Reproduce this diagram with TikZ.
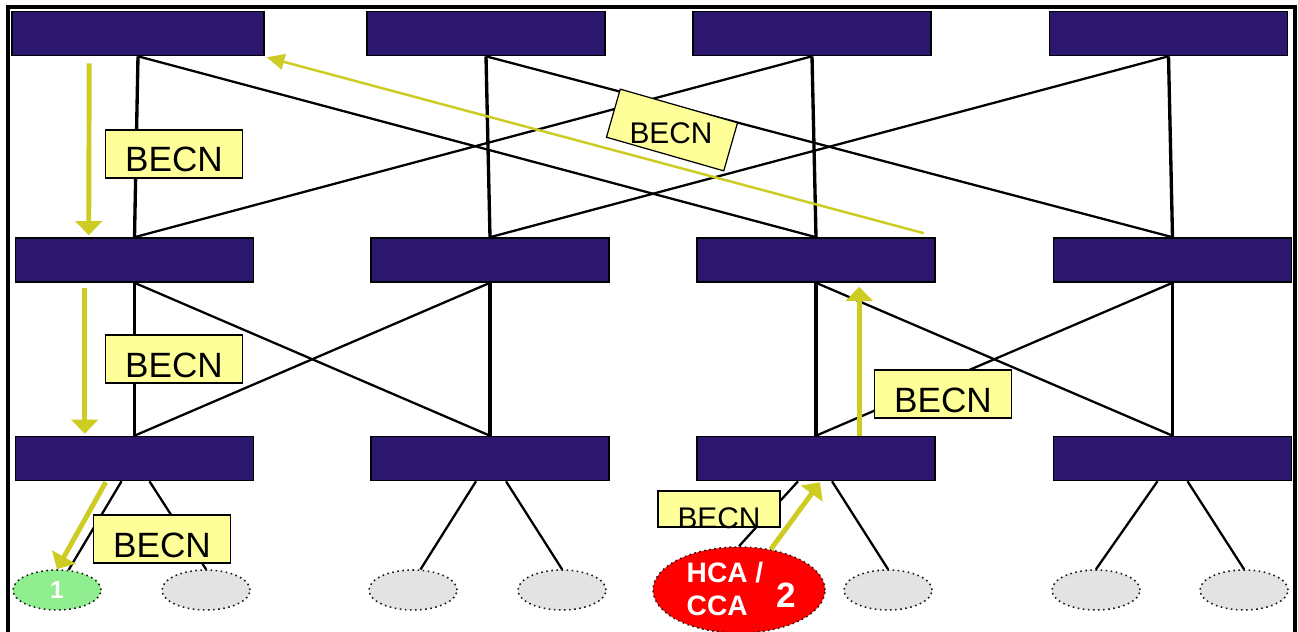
\documentclass[tikz,border=0pt]{standalone}
\usepackage{fontspec}
\setmainfont{Liberation Sans}
\usetikzlibrary{calc,arrows.meta,shapes.geometric}

\definecolor{switchblue}{RGB}{43,24,110}
\definecolor{becnfill}{RGB}{255,255,153}
\definecolor{becnline}{RGB}{204,204,34}
\definecolor{hostgray}{RGB}{227,227,227}
\definecolor{hostgreen}{RGB}{144,238,144}

\begin{document}
\begin{tikzpicture}[x=0.2mm,y=-0.2mm,
    switch/.style={rectangle,draw=black,line width=0.9pt,fill=switchblue,
      minimum width=47.6mm,minimum height=8.8mm,inner sep=0},
    host/.style={ellipse,draw=black!90,dotted,line width=0.9pt,fill=hostgray,
      minimum width=17.6mm,minimum height=8mm,inner sep=0},
    becn/.style={rectangle,draw=black,line width=0.7pt,fill=becnfill,
      minimum width=27.4mm,minimum height=9.6mm,inner sep=0,
      text height=7.2mm,text depth=0pt,
      font=\fontsize{20}{24}\selectfont},
    becntext/.style={inner sep=0,font=\fontsize{17}{20}\selectfont},
    hosttext/.style={text=white,inner sep=0,font=\bfseries\fontsize{16}{19}\selectfont},
    link/.style={line width=1.3pt},
    uplink/.style={line width=1.9pt},
    notify/.style={draw=becnline,line width=2.8pt,-{Triangle[width=15pt,length=8pt]}},
    thin notify/.style={draw=becnline,line width=1.4pt,-{Triangle[width=9pt,length=10pt]}}]

    \fill[white] (0,0) rectangle (1298,632);
    \useasboundingbox (0,0) rectangle (1298,632);
    \draw[line width=1.8pt] (8,640) |- (1295,7) -- (1295,640);

    % switches, three tiers
    \node[switch,minimum width=50.4mm] (t1) at (138,33.5) {};
    \node[switch] (t2) at (486,33.5) {};
    \node[switch] (t3) at (812,33.5) {};
    \node[switch] (t4) at (1168.5,33.5) {};
    \foreach \i/\x in {1/134.5,2/490,3/816,4/1172.5} {
      \node[switch] (m\i) at (\x,260) {};
      \node[switch] (b\i) at (\x,458.5) {};
    }

    % end nodes
    \node[host,fill=hostgreen] (h1) at (57,590) {};
    \node[host] (h2) at (206,590) {};
    \node[host] (h3) at (413,590) {};
    \node[host] (h4) at (562,590) {};
    \node[host,fill=red,minimum width=34.4mm,minimum height=17.2mm] (h5) at (739,590) {};
    \node[host] (h6) at (888,590) {};
    \node[host] (h7) at (1096,590) {};
    \node[host] (h8) at (1244,590) {};
    \node[hosttext,font=\bfseries\fontsize{14}{16}\selectfont] (h1t) at (h1) {1};
    \node[hosttext,align=left] (h5t) at (725,589) {HCA /\\CCA};
    \node[hosttext,font=\bfseries\fontsize{20}{24}\selectfont] (h5n) at (786,595) {2};

    % fabric links
    \foreach \a/\b in {t1/m1,t2/m2,t3/m3,t4/m4,m1/b1,m2/b2,m3/b3,m4/b4}
      \draw[uplink] (\a.south) -- (\b.north);
    \foreach \a/\b in {t1/m3,t3/m1,t2/m4,t4/m2,m1/b2,m2/b1,m3/b4,m4/b3}
      \draw[link] (\a.south) -- (\b.north);
    \foreach \s/\h/\d in {b1/h1.60/-13,b1/h2.north/15,b2/h3.70/-14,b2/h4.north/16,
                          b3/h5.north/-18,b3/h6.north/16,b4/h7.north/-15,b4/h8.north/15}
      \draw[link] ($(\s.south)+(\d,0)$) -- (\h);

    % notifications
    \node[becn] (l1) at (174,154) {BECN};
    \node[becn] (l2) at (174,359) {BECN};
    \node[becn] (l3) at (162,539) {BECN};
    \node[becn] (l4) at (943,394) {BECN};
    \node[becn,minimum width=24.4mm,minimum height=7.2mm,text height=0pt] (l5) at (719,509) {};
    \node[becntext,anchor=base] (l5t) at (719,528) {BECN};
    \node[becn,rotate=-16,minimum width=24.4mm,minimum height=10mm,text height=0pt] (l6) at (672,130) {};
    \node[becntext] (l6t) at (671,133) {BECN};

    \draw[notify] ($(t1.south west)+(78,7)$) -- ($(m1.north west)+(74,-2)$);
    \draw[notify] ($(m1.south west)+(70,5)$) -- ($(b1.north west)+(70,-2)$);
    \draw[notify] ($(b1.south west)+(91,1)$) -- (h1.north);
    \draw[notify] (h5.52) -- ($(b3.south)+(4,1)$);
    \draw[notify] ($(b3.north west)+(163,0)$) -- ($(m3.south west)+(163,4)$);
    \draw[thin notify] ($(m3.north east)+(-12,-4)$) -- ($(t1.south east)+(2,1)$);
\end{tikzpicture}
\end{document}
